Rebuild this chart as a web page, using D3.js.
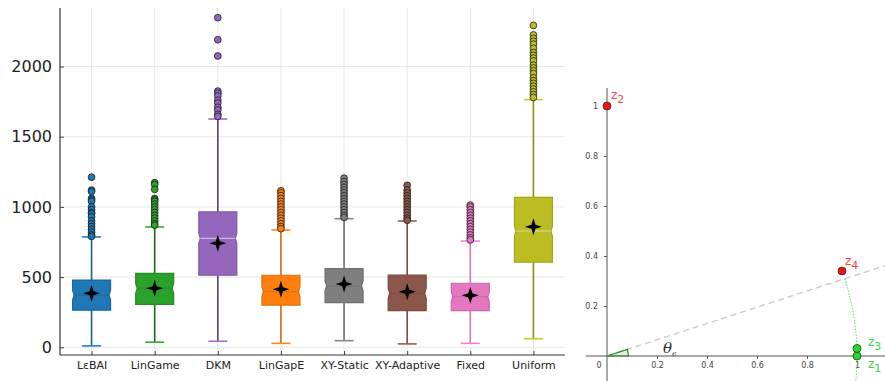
<!DOCTYPE html>
<html>
<head>
<meta charset="utf-8">
<script src="https://cdn.jsdelivr.net/npm/d3@7"></script>
<style>
  body { margin: 0; background: #fff; }
  text { font-family: "DejaVu Sans", sans-serif; }
</style>
</head>
<body>
<svg width="885" height="381"></svg>
<script>
// ---- left panel data (box plot of sample complexity) ----
var methods = ["LεBAI", "LinGame", "DKM", "LinGapE", "XY-Static", "XY-Adaptive", "Fixed", "Uniform"];
var fills = ["#1f77b4", "#2ca02c", "#9467bd", "#ff7f0e", "#7f7f7f", "#8c564b", "#e377c2", "#bcbd22"];
var lines = ["#1b5e8e", "#1c6a1c", "#5c3f7c", "#d66a0c", "#6f6f6f", "#7c4b41", "#d27ab5", "#8e8e12"];
var lowWhisker = [10, 36, 43, 28, 47, 24, 28, 61];
var q1 = [264, 306, 513, 301, 318, 261, 261, 607];
var medians = [371, 420, 776, 396, 437, 385, 360, 828];
var q3 = [479, 527, 964, 513, 560, 515, 456, 1068];
var highWhisker = [786, 857, 1626, 835, 916, 900, 757, 1764];
var means = [385, 420, 741, 413, 451, 396, 370, 859];
var outliers = [
  [1212, 1120, 1110, 1060, 1050, 1040, 1000, 980, 960, 950, 930, 900, 880, 860, 840, 820, 800, 790],
  [1173, 1160, 1125, 1060, 1050, 1040, 1020, 1000, 980, 960, 940, 920, 900, 880, 870],
  [2348, 2191, 2075, 1825, 1810, 1790, 1760, 1740, 1710, 1690, 1660, 1645],
  [1115, 1100, 1080, 1060, 1040, 1020, 1000, 980, 960, 940, 920, 900, 880, 860, 845],
  [1204, 1180, 1160, 1140, 1120, 1100, 1080, 1060, 1040, 1020, 1000, 980, 960, 940, 925],
  [1154, 1120, 1100, 1080, 1060, 1040, 1020, 1000, 980, 960, 940, 920, 905],
  [1013, 1000, 980, 960, 940, 920, 900, 880, 860, 840, 820, 800, 780, 765],
  [2293, 2225, 2200, 2180, 2160, 2130, 2100, 2080, 2060, 2040, 2010, 1990, 1970, 1950, 1920, 1900, 1880, 1860, 1840, 1820, 1800, 1780]
];
var yTicks = [0, 500, 1000, 1500, 2000];

// ---- right panel data (geometry sketch) ----
var pointNames = ["z", "z", "z", "z"];
var pointSubs = ["1", "2", "3", "4"];
var pointX = [1, 0, 1, 0.94];
var pointY = [0, 1, 0.03, 0.34];
var pointColors = ["#22dd22", "#ee1111", "#22dd22", "#ee1111"];
var labelColors = ["#33dd33", "#ff4040", "#33dd33", "#ff4040"];
var rTicks = [0.2, 0.4, 0.6, 0.8, 1];
var thetaDeg = 18;

var svg = d3.select("svg");

// ================= left panel =================
var plotL = 60, plotR = 565, plotT = 8, plotB = 355;

var x = d3.scalePoint().domain(methods).range([plotL, plotR]).padding(0.5);
var y = d3.scaleLinear().domain([-55, 2417]).range([plotB, plotT]);

var plot = svg.append("g");

// grid
plot.append("g").selectAll("line").data(yTicks).enter().append("line")
    .attr("x1", plotL).attr("x2", plotR)
    .attr("y1", function (d) { return y(d); }).attr("y2", function (d) { return y(d); })
    .attr("stroke", "#e8e8e8").attr("stroke-width", 1);
plot.append("g").selectAll("line").data(methods).enter().append("line")
    .attr("x1", function (d) { return x(d); }).attr("x2", function (d) { return x(d); })
    .attr("y1", plotT).attr("y2", plotB)
    .attr("stroke", "#e8e8e8").attr("stroke-width", 1);

var boxW = 38, capW = 19, notchH = 5, notchD = 1.5;

var star = function (cx, cy, r) {
  var ri = r * 0.34, pts = [];
  for (var k = 0; k < 8; k++) {
    var a = -Math.PI / 2 + k * Math.PI / 4;
    var rr = k % 2 === 0 ? r : ri;
    pts.push([cx + rr * Math.cos(a), cy + rr * Math.sin(a)]);
  }
  return "M" + pts.join("L") + "Z";
};

methods.forEach(function (m, i) {
  var cx = x(m), g = plot.append("g");
  var c = lines[i];

  // whiskers
  g.append("line").attr("x1", cx).attr("x2", cx)
      .attr("y1", y(q3[i])).attr("y2", y(highWhisker[i]))
      .attr("stroke", c).attr("stroke-width", 1.6);
  g.append("line").attr("x1", cx).attr("x2", cx)
      .attr("y1", y(q1[i])).attr("y2", y(lowWhisker[i]))
      .attr("stroke", c).attr("stroke-width", 1.6);
  [lowWhisker[i], highWhisker[i]].forEach(function (v) {
    g.append("line").attr("x1", cx - capW / 2).attr("x2", cx + capW / 2)
        .attr("y1", y(v)).attr("y2", y(v))
        .attr("stroke", d3.color(fills[i]).brighter(0.2)).attr("stroke-width", 1.6);
  });

  // notched box
  var l = cx - boxW / 2, r = cx + boxW / 2, ym = y(medians[i]);
  var p = "M" + l + "," + y(q3[i]) + "L" + r + "," + y(q3[i]) +
      "L" + r + "," + (ym - notchH) + "L" + (r - notchD) + "," + ym + "L" + r + "," + (ym + notchH) +
      "L" + r + "," + y(q1[i]) + "L" + l + "," + y(q1[i]) +
      "L" + l + "," + (ym + notchH) + "L" + (l + notchD) + "," + ym + "L" + l + "," + (ym - notchH) + "Z";
  g.append("path").attr("d", p)
      .attr("fill", fills[i])
      .attr("stroke", d3.color(fills[i]).darker(0.4)).attr("stroke-width", 1.2);
  g.append("line").attr("x1", l + notchD).attr("x2", r - notchD)
      .attr("y1", ym).attr("y2", ym)
      .attr("stroke", i === 2 || i === 7 ? "#f0f0f0" : d3.color(fills[i]).darker(0.6))
      .attr("stroke-opacity", 0.6).attr("stroke-width", 1.1);

  // outliers
  g.selectAll("circle").data(outliers[i]).enter().append("circle")
      .attr("cx", cx).attr("cy", function (d) { return y(d); }).attr("r", 3.4)
      .attr("fill", fills[i]).attr("stroke", "#1a1a1a").attr("stroke-opacity", 0.85).attr("stroke-width", 0.9);

  // mean marker
  g.append("path").attr("d", star(cx, y(means[i]), 8.5)).attr("fill", "#000");
});

// axes
var yAxis = plot.append("g").attr("transform", "translate(" + plotL + ",0)")
    .call(d3.axisLeft(y).tickValues(yTicks).tickSize(-4).tickPadding(8).tickFormat(d3.format("d")));
yAxis.select(".domain").remove();
yAxis.selectAll("text").attr("font-size", 16).attr("fill", "#222").style("font-family", "DejaVu Sans");
yAxis.selectAll(".tick line").attr("stroke", "#444");

var xAxis = plot.append("g").attr("transform", "translate(0," + plotB + ")")
    .call(d3.axisBottom(x).tickSize(-4).tickPadding(6));
xAxis.select(".domain").remove();
xAxis.selectAll("text").attr("font-size", 11).attr("fill", "#222").style("font-family", "DejaVu Sans");
xAxis.selectAll(".tick line").attr("stroke", "#444");

plot.append("line").attr("x1", plotL).attr("x2", plotL).attr("y1", plotT).attr("y2", plotB)
    .attr("stroke", "#333").attr("stroke-width", 1.2);
plot.append("line").attr("x1", plotL).attr("x2", plotR).attr("y1", plotB).attr("y2", plotB)
    .attr("stroke", "#333").attr("stroke-width", 1.2);

// ================= right panel =================
var rx = d3.scaleLinear().domain([0, 1]).range([607, 857]);
var ry = d3.scaleLinear().domain([0, 1]).range([356, 106]);
var geo = svg.append("g");

// axis lines
geo.append("line").attr("x1", rx(-0.085)).attr("x2", 885).attr("y1", ry(0)).attr("y2", ry(0))
    .attr("stroke", "#555").attr("stroke-width", 1);
geo.append("line").attr("x1", rx(0)).attr("x2", rx(0)).attr("y1", ry(1.072)).attr("y2", 381)
    .attr("stroke", "#555").attr("stroke-width", 1);

var rxAxis = geo.append("g").attr("transform", "translate(0," + ry(0) + ")")
    .call(d3.axisBottom(rx).tickValues(rTicks).tickSize(3).tickPadding(3).tickFormat(d3.format("")));
var ryAxis = geo.append("g").attr("transform", "translate(" + rx(0) + ",0)")
    .call(d3.axisLeft(ry).tickValues(rTicks).tickSize(3).tickPadding(6).tickFormat(d3.format("")));
[rxAxis, ryAxis].forEach(function (a) {
  a.select(".domain").remove();
  a.selectAll(".tick line").attr("stroke", "#555");
  a.selectAll("text").attr("font-size", 8).attr("fill", "#444").style("font-family", "DejaVu Sans");
});
geo.append("text").attr("x", rx(0) - 8).attr("y", ry(0) + 12).attr("text-anchor", "middle")
    .attr("font-size", 8).attr("fill", "#444").text("0");

// dashed direction line at angle theta
var th = thetaDeg * Math.PI / 180;
geo.append("line").attr("x1", rx(0)).attr("y1", ry(0))
    .attr("x2", rx(1.2)).attr("y2", ry(1.2 * Math.tan(th)))
    .attr("stroke", "#c8c8c8").attr("stroke-width", 1.3).attr("stroke-dasharray", "6,4");

// dotted unit-circle arc
var arcAngles = d3.range(th, -0.12, -0.01);
geo.append("path")
    .attr("d", d3.line().x(function (a) { return rx(Math.cos(a)); }).y(function (a) { return ry(Math.sin(a)); })(arcAngles))
    .attr("fill", "none").attr("stroke", "#55dd55").attr("stroke-width", 1).attr("stroke-dasharray", "1.5,1.5");

// angle wedge
var wr = 0.086;
geo.append("path")
    .attr("d", "M" + rx(0) + "," + ry(0) + "L" + rx(wr) + "," + ry(0) + "L" + rx(wr * Math.cos(th)) + "," + ry(wr * Math.sin(th)) + "Z")
    .attr("fill", "#2e8b2e").attr("fill-opacity", 0.15).attr("stroke", "#2e8b2e").attr("stroke-width", 1.2);

var thLabel = geo.append("text").attr("x", 663).attr("y", 353)
    .attr("fill", "#333").style("font-family", "DejaVu Serif").attr("font-size", 15).attr("font-style", "italic");
thLabel.append("tspan").text("θ");
thLabel.append("tspan").attr("dy", 3).attr("font-size", 8).text("ϵ");

// points and labels
var labelOffsets = [[11, 12], [4, -7], [11, -3], [3, -6]];
pointX.forEach(function (px, i) {
  geo.append("circle").attr("cx", rx(px)).attr("cy", ry(pointY[i])).attr("r", 4)
      .attr("fill", pointColors[i]).attr("stroke", "#333").attr("stroke-width", 0.8);
  var t = geo.append("text").attr("x", rx(px) + labelOffsets[i][0]).attr("y", ry(pointY[i]) + labelOffsets[i][1])
      .attr("fill", labelColors[i]).attr("font-size", 12);
  t.append("tspan").text(pointNames[i]);
  t.append("tspan").attr("dy", 4).attr("font-size", 11).text(pointSubs[i]);
});
</script>
</body>
</html>
